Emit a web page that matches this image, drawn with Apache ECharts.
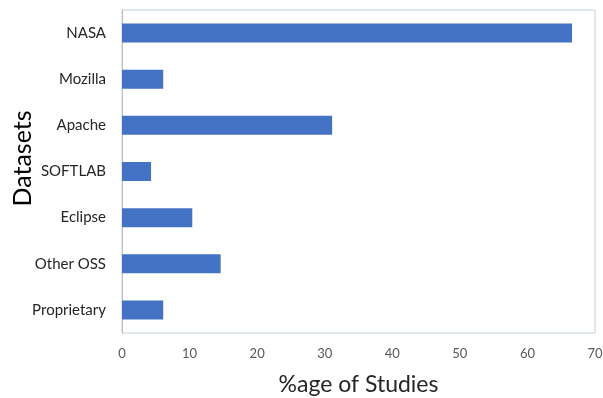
<!DOCTYPE html>
<html>
<head>
<meta charset="utf-8">
<script src="https://cdn.jsdelivr.net/npm/echarts@6/dist/echarts.min.js"></script>
<style>
  html, body { margin: 0; padding: 0; background: #fff; }
  #chart { width: 603px; height: 398px; }
</style>
</head>
<body>
<div id="chart"></div>
<script>
// datasets, top to bottom
const categories = ['NASA', 'Mozilla', 'Apache', 'SOFTLAB', 'Eclipse', 'Other OSS', 'Proprietary'];
const studyShare = [66.6, 6.1, 31.1, 4.3, 10.4, 14.6, 6.1];
const xTicks = [0, 10, 20, 30, 40, 50, 60, 70];

const chart = echarts.init(document.getElementById('chart'), null, { renderer: 'canvas' });

chart.setOption({
  animation: false,
  textStyle: { fontFamily: 'Lato, "Liberation Sans", sans-serif' },
  grid: {
    left: 122,
    right: 8,
    top: 10,
    bottom: 65,
    outerBoundsMode: 'none',
    containLabel: false,
    show: true,
    borderColor: '#c5d0df',
    borderWidth: 1
  },
  xAxis: {
    type: 'value',
    min: xTicks[0],
    max: xTicks[xTicks.length - 1],
    interval: 10,
    name: '%age of Studies',
    nameLocation: 'middle',
    nameGap: 40,
    nameMoveOverlap: false,
    nameTextStyle: { fontSize: 23, color: '#262626' },
    axisLine: { show: false },
    axisTick: { show: false },
    splitLine: { show: false },
    axisLabel: { color: '#595959', fontSize: 13, margin: 14 }
  },
  yAxis: {
    type: 'category',
    data: categories,
    inverse: true,
    name: 'Datasets',
    nameLocation: 'middle',
    nameGap: 87,
    nameMoveOverlap: false,
    nameTextStyle: { fontSize: 25, color: '#000', padding: [0, 0, 0, 26] },
    axisLine: { show: true, lineStyle: { color: '#bfbfbf' } },
    axisTick: { show: false },
    axisLabel: { color: '#262626', fontSize: 15, margin: 16 }
  },
  series: [{
    type: 'bar',
    data: studyShare,
    barWidth: 19,
    itemStyle: { color: '#4472C4' }
  }]
});
</script>
</body>
</html>
